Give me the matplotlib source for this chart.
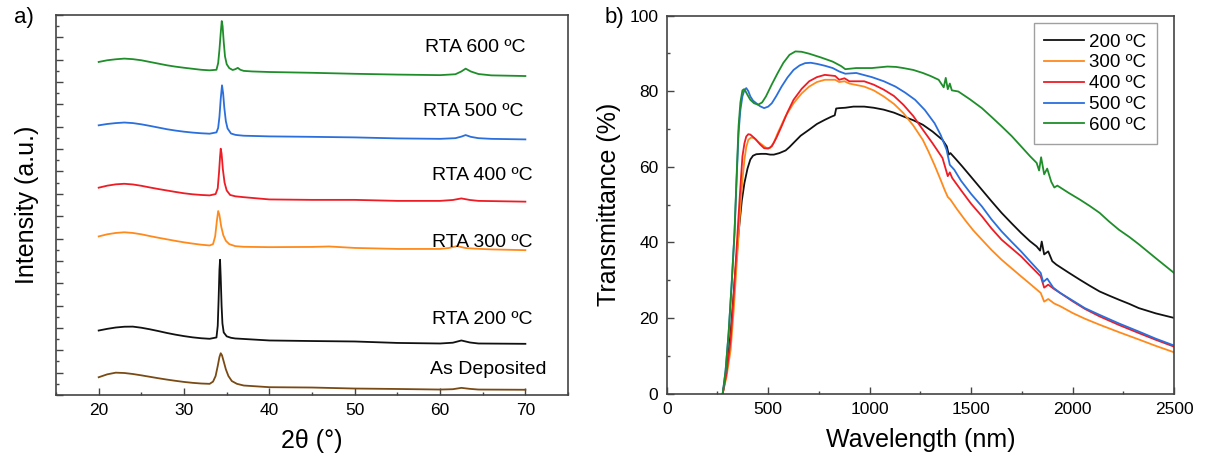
import matplotlib
matplotlib.use("Agg")
import matplotlib.pyplot as plt
from matplotlib.ticker import MultipleLocator, NullFormatter

plt.rcParams['font.family'] = ['Liberation Sans', 'DejaVu Sans']

# ---------------- XRD patterns (stacked, arbitrary units) ----------------
xrd_labels = ["As Deposited", "RTA 200 ºC", "RTA 300 ºC", "RTA 400 ºC", "RTA 500 ºC", "RTA 600 ºC"]
xrd_colors = ["#7a4a14", "#111111", "#ff8a1c", "#ee1c24", "#2a6fdc", "#1f8e2a"]

tt_asdep = [20, 21, 22, 23, 24, 25, 26, 27, 28, 29, 30, 31, 32, 33, 33.4, 33.7, 33.95, 34.15, 34.3, 34.45,
            34.65, 34.9, 35.2, 35.6, 36.2, 37, 40, 45, 50, 55, 60, 61.5, 62.5, 63.5, 64.5, 70]
i_asdep = [1.59, 1.85, 2.00, 1.97, 1.88, 1.76, 1.63, 1.50, 1.38, 1.27, 1.17, 1.09, 1.03, 1.00, 1.20, 1.70,
           2.60, 3.40, 3.74, 3.55, 3.00, 2.30, 1.70, 1.25, 1.00, 0.85, 0.70, 0.67, 0.58, 0.54, 0.49, 0.52,
           0.64, 0.55, 0.49, 0.47]

tt_200 = [20, 21, 22, 23, 24, 25, 26, 27, 28, 29, 30, 31, 32, 33, 33.8, 33.95, 34.05, 34.15, 34.22, 34.3,
          34.4, 34.5, 34.65, 35.0, 35.5, 36, 40, 45, 50, 55, 60, 61.5, 62.5, 63.5, 64.5, 70]
i_200 = [5.77, 5.92, 6.04, 6.11, 6.12, 6.02, 5.88, 5.72, 5.55, 5.40, 5.27, 5.16, 5.08, 5.03, 5.15, 6.20,
         8.50, 11.20, 12.10, 10.50, 8.00, 6.40, 5.60, 5.25, 5.12, 5.06, 4.88, 4.83, 4.79, 4.66, 4.61, 4.68,
         4.88, 4.70, 4.61, 4.58]

tt_300 = [20, 21, 22, 23, 24, 25, 26, 27, 28, 29, 30, 31, 32, 33, 33.4, 33.65, 33.85, 34.0, 34.15, 34.35,
          34.6, 34.9, 35.3, 36, 37, 40, 45, 47, 50, 55, 60, 61, 62, 63, 64, 66, 70]
i_300 = [14.19, 14.38, 14.50, 14.56, 14.50, 14.38, 14.22, 14.07, 13.93, 13.79, 13.66, 13.55, 13.45, 13.38,
         13.50, 14.20, 15.60, 16.46, 16.10, 15.10, 14.30, 13.80, 13.50, 13.32, 13.26, 13.23, 13.25, 13.29,
         13.16, 13.07, 13.07, 13.15, 13.32, 13.15, 13.10, 13.03, 12.96]

tt_400 = [20, 21, 22, 23, 24, 25, 26, 27, 28, 29, 30, 31, 32, 33, 33.7, 33.95, 34.1, 34.22, 34.3, 34.4,
          34.55, 34.75, 35.0, 35.4, 36, 37, 40, 45, 50, 55, 60, 61.5, 62.5, 63.5, 64.5, 70]
i_400 = [18.55, 18.73, 18.85, 18.90, 18.84, 18.72, 18.57, 18.43, 18.30, 18.17, 18.05, 17.96, 17.90, 17.86,
         17.98, 18.50, 19.90, 21.30, 22.04, 21.60, 20.20, 19.00, 18.30, 17.90, 17.78, 17.70, 17.50, 17.46,
         17.46, 17.37, 17.37, 17.45, 17.59, 17.45, 17.37, 17.30]

tt_500 = [20, 21, 22, 23, 24, 25, 26, 27, 28, 29, 30, 31, 32, 33, 33.8, 34.0, 34.15, 34.3, 34.45, 34.58,
          34.72, 34.9, 35.1, 35.5, 36, 36.3, 37, 40, 45, 50, 55, 60, 61.8, 62.5, 63, 63.6, 64.5, 66, 70]
i_500 = [24.13, 24.25, 24.33, 24.38, 24.33, 24.22, 24.08, 23.93, 23.78, 23.66, 23.56, 23.48, 23.42, 23.38,
         23.50, 23.90, 24.90, 26.50, 27.71, 27.00, 25.70, 24.50, 23.85, 23.40, 23.28, 23.25, 23.20, 23.14,
         23.10, 23.05, 22.96, 22.92, 22.98, 23.12, 23.26, 23.10, 22.98, 22.92, 22.87]

tt_600 = [20, 21, 22, 23, 24, 25, 26, 27, 28, 29, 30, 31, 32, 33, 33.8, 34.0, 34.15, 34.3, 34.42, 34.52,
          34.65, 34.8, 35.0, 35.3, 35.7, 36.0, 36.3, 36.6, 37, 38, 40, 45, 50, 55, 60, 61.8, 62.5, 63,
          63.6, 64.5, 66, 70]
i_600 = [29.80, 29.95, 30.04, 30.10, 30.05, 29.95, 29.80, 29.65, 29.50, 29.38, 29.28, 29.19, 29.10, 29.05,
         29.10, 29.70, 30.90, 32.40, 33.46, 33.00, 31.60, 30.30, 29.60, 29.25, 29.08, 29.15, 29.27, 29.10,
         29.00, 28.95, 28.90, 28.83, 28.74, 28.67, 28.62, 28.70, 28.95, 29.20, 28.95, 28.72, 28.60, 28.54]

xrd_tt = [tt_asdep, tt_200, tt_300, tt_400, tt_500, tt_600]
xrd_i = [i_asdep, i_200, i_300, i_400, i_500, i_600]
label_tt = [65.7, 64.9, 64.9, 64.9, 63.9, 64.1]
label_i = [2.28, 6.76, 13.65, 19.6, 25.4, 31.1]

# ---------------- Optical transmittance ----------------
trans_labels = ["200 ºC", "300 ºC", "400 ºC", "500 ºC", "600 ºC"]
trans_colors = ["#111111", "#ff8a1c", "#ee1c24", "#2a6fdc", "#1f8e2a"]

wl_200 = [276, 295, 315, 335, 354, 370, 383, 398, 412, 425, 441, 465, 489, 510, 528, 555, 586, 605, 625,
          660, 702, 740, 779, 810, 828, 835, 850, 880, 920, 973, 1020, 1069, 1120, 1166, 1215, 1262, 1310,
          1359, 1380, 1390, 1398, 1425, 1456, 1500, 1553, 1600, 1650, 1700, 1746, 1790, 1823, 1840, 1848,
          1860, 1880, 1900, 1920, 1980, 2036, 2085, 2133, 2180, 2229, 2280, 2326, 2410, 2500]
t_200 = [0, 6, 16, 30, 42.5, 51, 55.7, 59.5, 61.9, 62.9, 63.3, 63.4, 63.4, 63.2, 63.2, 63.6, 64.3, 65.2,
         66.3, 68.2, 69.8, 71.3, 72.4, 73.2, 73.6, 75.4, 75.5, 75.6, 75.9, 75.9, 75.6, 75.1, 74.3, 73.3,
         72.3, 71.1, 69.3, 67.1, 65.4, 63.2, 63.6, 62.0, 60.1, 57.3, 53.9, 50.9, 47.8, 45.0, 42.5, 40.3,
         38.9, 37.8, 40.2, 36.8, 37.6, 35.0, 34.1, 32.0, 30.1, 28.5, 27.0, 25.9, 24.8, 23.7, 22.6, 21.2, 20.0]

wl_300 = [276, 295, 315, 330, 344, 355, 363, 373, 383, 392, 402, 415, 431, 450, 470, 490, 508, 528, 547,
          585, 625, 665, 702, 740, 779, 830, 850, 876, 900, 973, 1020, 1069, 1120, 1166, 1215, 1262, 1290,
          1320, 1350, 1370, 1385, 1398, 1430, 1470, 1510, 1553, 1600, 1650, 1700, 1746, 1795, 1843, 1860,
          1880, 1910, 1939, 2000, 2060, 2133, 2230, 2326, 2410, 2500]
t_300 = [0, 4.5, 11.6, 22, 33.7, 42.5, 49.5, 56.5, 61.9, 65.2, 67.1, 67.7, 67.6, 66.6, 65.8, 65.0, 64.9,
         66.4, 68.9, 73.3, 76.8, 79.4, 81.2, 82.4, 83.0, 83.0, 82.4, 82.6, 82.0, 81.2, 80.2, 78.6, 76.6,
         74.2, 70.9, 67.1, 64.0, 60.4, 56.5, 53.8, 52.0, 51.3, 48.8, 45.9, 43.2, 40.7, 38.0, 35.4, 33.1,
         31.0, 28.8, 26.6, 24.3, 25.0, 23.8, 23.1, 21.3, 19.8, 18.2, 16.2, 14.3, 12.6, 10.9]

wl_400 = [276, 295, 315, 330, 344, 358, 373, 383, 392, 402, 412, 425, 441, 460, 480, 500, 518, 540, 566,
          595, 625, 665, 702, 740, 779, 830, 850, 876, 900, 973, 1020, 1069, 1120, 1166, 1215, 1262, 1310,
          1359, 1385, 1395, 1407, 1450, 1500, 1553, 1600, 1650, 1700, 1746, 1795, 1843, 1860, 1880, 1910,
          1939, 2000, 2060, 2133, 2230, 2326, 2410, 2500]
t_400 = [0, 5.5, 14.3, 26, 38.1, 50.5, 62.7, 66.2, 68.0, 68.6, 68.5, 67.9, 67.1, 65.9, 64.9, 64.8, 65.4,
         67.6, 70.7, 74.4, 77.7, 80.6, 82.6, 83.7, 84.3, 84.0, 83.0, 83.4, 82.6, 82.6, 81.7, 80.4, 78.7,
         76.4, 73.4, 69.8, 66.2, 62.3, 57.5, 58.5, 57.0, 53.8, 50.2, 46.9, 43.7, 40.7, 38.4, 36.3, 33.6,
         31.0, 28.0, 28.8, 27.6, 26.6, 24.4, 22.4, 20.4, 18.1, 16.0, 14.2, 12.4]

wl_500 = [276, 290, 305, 320, 334, 344, 354, 363, 373, 383, 392, 402, 412, 425, 441, 460, 480, 500, 518,
          540, 566, 595, 625, 655, 682, 710, 741, 780, 818, 850, 880, 934, 1011, 1070, 1127, 1175, 1224,
          1272, 1320, 1350, 1379, 1395, 1417, 1450, 1500, 1553, 1600, 1650, 1700, 1746, 1795, 1843, 1855,
          1875, 1905, 1939, 2000, 2060, 2133, 2230, 2326, 2410, 2500]
t_500 = [0, 6, 16, 29, 42.5, 56, 68.9, 75, 78.6, 80.3, 80.8, 80.0, 78.6, 77.5, 76.8, 76.0, 75.5, 75.9,
         76.8, 78.7, 81.2, 83.6, 85.6, 86.8, 87.4, 87.5, 87.2, 86.7, 86.1, 85.2, 84.6, 84.8, 83.7, 82.6,
         81.2, 79.6, 77.7, 75.0, 71.5, 68.4, 64.5, 60.5, 59.2, 56.3, 52.8, 49.5, 46.1, 42.9, 40.1, 37.6,
         34.7, 31.9, 29.5, 30.4, 28.0, 26.6, 24.6, 22.6, 20.8, 18.5, 16.4, 14.5, 12.7]

wl_600 = [276, 290, 305, 320, 334, 344, 354, 363, 373, 381, 389, 400, 412, 430, 450, 470, 489, 518, 547,
          575, 605, 634, 665, 702, 760, 818, 860, 880, 934, 1011, 1088, 1130, 1166, 1215, 1262, 1300, 1340,
          1365, 1375, 1385, 1395, 1405, 1437, 1495, 1553, 1600, 1650, 1700, 1746, 1790, 1823, 1835, 1845,
          1860, 1875, 1895, 1910, 1925, 1980, 2036, 2085, 2133, 2180, 2229, 2280, 2326, 2410, 2500]
t_600 = [0, 6, 16, 29, 42.5, 57, 70.7, 77, 80.2, 80.5, 79.9, 78.8, 77.7, 76.8, 76.4, 77.0, 78.6, 81.8,
         84.8, 87.5, 89.6, 90.5, 90.4, 89.9, 88.9, 87.8, 86.6, 85.8, 86.1, 86.1, 86.5, 86.4, 86.1, 85.6,
         84.8, 84.0, 83.0, 81.0, 83.5, 80.5, 82.0, 80.2, 79.9, 77.8, 75.5, 73.2, 70.7, 68.1, 65.4, 62.8,
         61.0, 59.0, 62.5, 58.0, 59.5, 56.0, 54.5, 55.0, 53.1, 51.3, 49.6, 47.8, 45.5, 43.3, 41.4, 39.5,
         35.8, 31.9]

trans_wl = [wl_200, wl_300, wl_400, wl_500, wl_600]
trans_t = [t_200, t_300, t_400, t_500, t_600]

spine_color = "#444444"

fig = plt.figure(figsize=(12.05, 4.59), dpi=100)
ax1 = fig.add_axes([0.0465, 0.1394, 0.4249, 0.8279])
ax2 = fig.add_axes([0.5533, 0.1427, 0.4210, 0.8235])

# ---- panel a: XRD ----
for tt, inten, c in zip(xrd_tt, xrd_i, xrd_colors):
    ax1.plot(tt, inten, color=c, lw=1.3)
for lab, x, y in zip(xrd_labels, label_tt, label_i):
    ax1.text(x, y, lab, fontsize=14, ha="center", va="center")

ax1.set_xlim(15, 75)
ax1.set_ylim(0, 34)
ax1.set_xticks([20, 30, 40, 50, 60, 70])
ax1.xaxis.set_minor_locator(MultipleLocator(5))
ax1.yaxis.set_major_locator(MultipleLocator(2))
ax1.yaxis.set_minor_locator(MultipleLocator(1))
ax1.yaxis.set_major_formatter(NullFormatter())
ax1.set_xlabel("2θ (°)", fontsize=18, labelpad=8)
ax1.set_ylabel("Intensity (a.u.)", fontsize=18, labelpad=6)

# ---- panel b: transmittance ----
for wl, t, c, lab in zip(trans_wl, trans_t, trans_colors, trans_labels):
    ax2.plot(wl, t, color=c, lw=1.3, label=lab)

ax2.set_xlim(0, 2500)
ax2.set_ylim(0, 100)
ax2.xaxis.set_major_locator(MultipleLocator(500))
ax2.xaxis.set_minor_locator(MultipleLocator(250))
ax2.yaxis.set_major_locator(MultipleLocator(20))
ax2.yaxis.set_minor_locator(MultipleLocator(10))
ax2.set_xlabel("Wavelength (nm)", fontsize=18, labelpad=8)
ax2.set_ylabel("Transmittance (%)", fontsize=18, labelpad=6)

leg = ax2.legend(loc="upper right", bbox_to_anchor=(0.966, 0.980), fontsize=13.5,
                 frameon=True, fancybox=False, edgecolor="#888888",
                 handlelength=2.1, handletextpad=0.3, labelspacing=0.2,
                 borderpad=0.55, borderaxespad=0)
leg.get_frame().set_linewidth(1.0)

for ax in (ax1, ax2):
    for s in ax.spines.values():
        s.set_color(spine_color)
        s.set_linewidth(1.2)
    ax.tick_params(which="both", direction="in", top=False, right=False,
                   color=spine_color, labelsize=12.5, pad=6)
    ax.tick_params(which="major", length=5, width=1.0)
    ax.tick_params(which="minor", length=2.5, width=1.0)

fig.text(0.012, 0.961, "a)", fontsize=16, ha="left", va="center")
fig.text(0.502, 0.961, "b)", fontsize=16, ha="left", va="center")

fig.savefig("out.png", dpi=100)
